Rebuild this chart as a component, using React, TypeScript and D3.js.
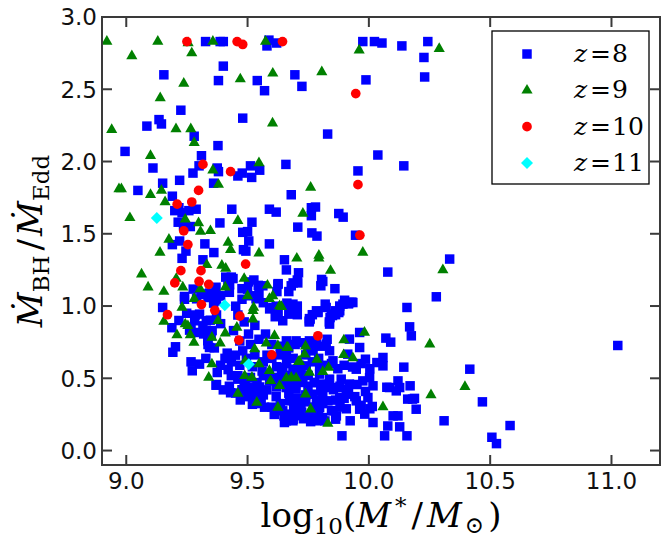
import React, { useEffect, useRef } from "react";
import * as d3 from "d3";

type Pt = [number, number];

const xTicks = [9.0, 9.5, 10.0, 10.5, 11.0];
const yTicks = [0.0, 0.5, 1.0, 1.5, 2.0, 2.5, 3.0];

// z = 8 (blue squares)
const z8Points: Pt[] = [
  [9.327, 2.83], [9.387, 2.83], [9.4, 2.83], [9.588, 2.84], [9.58, 2.8], [9.62, 2.82],
  [9.975, 2.83], [10.023, 2.83], [10.054, 2.82], [10.136, 2.8], [10.243, 2.83], [10.227, 2.72],
  [9.4, 2.66], [9.155, 2.6], [9.38, 2.56], [9.54, 2.56], [9.695, 2.6], [9.724, 2.52], [9.57, 2.49],
  [9.988, 2.565], [10.23, 2.585], [9.225, 2.355], [9.135, 2.29], [9.145, 2.26], [9.085, 2.245],
  [9.48, 2.3], [9.28, 2.175], [9.378, 2.11], [9.83, 2.19], [8.995, 2.07], [9.31, 2.04], [10.037, 2.045],
  [9.3, 1.97], [9.11, 1.955], [9.375, 1.955], [9.38, 1.93], [9.512, 1.97], [9.478, 1.92], [9.46, 1.9],
  [9.517, 1.89], [9.55, 1.94], [9.658, 1.98], [9.275, 1.92], [9.955, 1.935], [10.144, 1.97],
  [9.15, 1.85], [9.22, 1.87], [9.048, 1.8], [9.36, 1.85], [9.19, 1.76], [9.68, 1.77],
  [9.217, 1.68], [9.2, 1.66], [9.23, 1.645], [9.258, 1.66], [9.288, 1.67], [9.435, 1.67], [9.59, 1.67], [9.618, 1.65],
  [9.214, 1.58], [9.236, 1.555], [9.264, 1.55], [9.386, 1.575], [9.518, 1.58], [9.48, 1.51], [9.5, 1.515],
  [9.505, 1.45], [9.483, 1.39], [9.493, 1.38], [9.59, 1.43], [9.19, 1.425], [9.22, 1.45], [9.324, 1.43],
  [9.246, 1.38], [9.361, 1.37], [9.23, 1.33], [9.316, 1.32],
  [9.763, 1.68], [9.78, 1.685], [9.763, 1.625], [9.876, 1.64], [9.894, 1.615], [9.707, 1.546],
  [9.765, 1.506], [9.786, 1.484], [9.945, 1.49], [10.333, 1.325], [9.652, 1.32], [9.66, 1.25],
  [9.71, 1.23], [10.078, 1.235], [9.81, 1.17], [9.802, 1.14], [9.86, 1.12], [9.707, 1.16], [9.68, 1.14],
  [10.278, 1.064], [10.157, 0.99], [9.662, 1.02], [9.687, 0.967], [9.673, 0.944], [9.82, 1.013],
  [9.79, 0.96], [9.755, 0.913], [9.9, 1.04], [9.93, 1.027], [9.876, 0.955], [9.85, 0.934], [9.84, 0.92],
  [9.276, 1.117], [9.24, 1.066], [9.29, 1.05], [9.316, 1.08], [9.343, 1.09], [9.37, 1.13], [9.378, 1.07],
  [9.36, 1.02], [9.41, 1.2], [9.44, 1.19], [9.426, 1.147], [9.526, 1.18], [9.5, 1.117], [9.535, 1.05],
  [9.563, 1.14], [9.625, 1.15], [9.604, 0.99], [9.15, 0.99],
  [9.621, 1.1], [9.67, 1.1], [9.544, 1.143], [9.504, 1.167], [9.477, 1.12], [9.705, 1.0], [9.705, 0.94],
  [9.67, 0.96], [9.618, 0.999], [9.591, 0.98], [9.626, 0.95], [9.614, 0.926], [9.758, 0.91], [9.754, 0.89],
  [9.784, 0.967], [9.767, 0.94], [9.916, 1.015], [9.88, 1.0], [9.863, 0.967], [9.837, 0.89], [9.863, 0.94],
  [9.217, 0.9], [9.188, 0.85], [9.203, 0.718], [9.192, 0.68], [9.261, 0.833], [9.288, 0.817], [9.282, 0.898],
  [9.302, 0.944], [9.33, 0.898], [9.316, 0.863], [9.343, 0.828], [9.35, 0.794], [9.336, 0.76], [9.343, 0.713],
  [9.302, 0.598], [9.272, 0.552], [9.37, 0.452], [9.652, 0.194], [9.66, 0.206],
  [9.372, 0.457], [9.375, 0.54], [9.389, 0.59], [9.407, 0.638], [9.416, 0.674], [9.363, 0.71], [9.337, 0.734],
  [9.328, 0.638], [9.267, 0.614], [9.319, 0.807], [9.354, 0.83], [9.267, 0.854], [9.249, 0.95], [9.284, 0.938],
  [9.346, 0.902], [9.372, 0.938], [9.389, 0.878],
  [9.24, 1.047], [9.311, 1.083], [9.337, 1.059], [9.372, 1.035], [9.389, 1.071], [9.425, 1.095], [9.451, 0.999],
  [9.477, 1.047], [9.512, 1.071], [9.547, 1.083], [9.565, 1.023], [9.46, 0.938], [9.486, 0.89], [9.53, 0.866],
  [9.504, 0.806], [9.442, 0.83], [9.468, 0.758], [9.512, 0.734], [9.547, 0.77], [9.574, 0.806], [9.6, 0.734],
  [9.635, 0.722], [9.67, 0.71], [9.696, 0.734], [9.723, 0.746], [9.749, 0.71], [9.775, 0.746], [9.802, 0.722],
  [9.828, 0.77],
  [9.433, 0.614], [9.468, 0.59], [9.495, 0.638], [9.53, 0.662], [9.565, 0.614], [9.6, 0.638], [9.635, 0.662],
  [9.661, 0.602], [9.688, 0.638], [9.714, 0.59], [9.74, 0.662], [9.767, 0.614], [9.793, 0.638], [9.819, 0.59],
  [9.846, 0.602], [9.872, 0.566], [9.898, 0.59], [9.933, 0.578], [9.968, 0.602], [10.004, 0.566],
  [9.46, 0.518], [9.486, 0.482], [9.512, 0.506], [9.539, 0.47], [9.565, 0.518], [9.591, 0.482], [9.618, 0.506],
  [9.644, 0.47], [9.67, 0.494], [9.696, 0.457], [9.723, 0.482], [9.749, 0.445], [9.775, 0.47], [9.802, 0.433],
  [9.828, 0.457], [9.854, 0.421], [9.881, 0.445], [9.916, 0.421], [9.951, 0.457], [9.986, 0.409],
  [9.495, 0.373], [9.53, 0.397], [9.565, 0.385], [9.618, 0.373], [9.67, 0.397], [9.705, 0.361], [9.74, 0.385],
  [9.784, 0.349], [9.81, 0.373], [9.863, 0.349], [9.898, 0.361], [9.942, 0.373], [9.968, 0.313], [10.004, 0.289],
  [9.81, 0.325], [9.775, 0.301], [9.74, 0.337], [9.705, 0.313], [9.846, 0.277], [9.881, 0.301], [9.793, 0.253],
  [9.758, 0.241], [9.819, 0.205], [9.863, 0.217], [9.907, 0.289], [9.688, 0.217], [9.705, 0.241], [9.723, 0.265],
  [9.6, 0.3], [9.618, 0.29], [9.635, 0.325], [9.556, 0.325], [9.53, 0.354], [9.504, 0.398], [9.477, 0.421],
  [9.451, 0.398], [9.425, 0.445], [9.46, 0.494], [9.433, 0.518],
  [10.168, 0.856], [10.175, 0.794], [10.07, 0.778], [10.09, 0.75], [10.416, 0.563], [10.144, 0.577],
  [10.058, 0.644], [10.058, 0.586], [10.033, 0.609], [9.986, 0.632], [9.962, 0.713], [9.962, 0.817],
  [9.92, 0.771], [9.913, 0.667], [9.948, 0.563], [9.975, 0.482], [10.003, 0.505], [10.017, 0.448],
  [10.085, 0.436], [10.12, 0.482], [10.127, 0.436], [10.113, 0.413], [10.17, 0.448], [10.18, 0.356],
  [10.195, 0.286], [10.16, 0.356], [10.1, 0.24], [10.12, 0.24], [10.078, 0.17], [10.127, 0.164],
  [10.157, 0.102], [10.065, 0.102], [10.31, 0.206], [10.017, 0.194], [9.996, 0.367], [10.014, 0.305],
  [9.983, 0.252], [9.962, 0.286], [9.948, 0.344], [9.923, 0.206], [9.889, 0.102], [9.866, 0.24],
  [9.81, 0.228], [9.783, 0.206], [9.831, 0.344], [9.797, 0.298], [9.852, 0.275], [9.88, 0.367],
  [9.907, 0.39], [9.92, 0.46], [9.886, 0.494], [9.872, 0.436], [9.838, 0.436], [9.804, 0.413],
  [9.77, 0.39], [9.714, 0.344], [9.673, 0.344], [9.645, 0.275], [9.673, 0.252], [9.7, 0.275], [9.687, 0.206],
  [9.81, 0.46], [9.797, 0.529], [9.838, 0.494], [9.824, 0.736], [9.838, 0.69], [9.852, 0.621], [9.77, 0.69],
  [9.755, 0.759], [9.7, 0.759], [9.66, 0.759], [9.783, 0.736], [9.797, 0.586], [9.742, 0.586], [9.687, 0.563],
  [9.645, 0.574], [9.66, 0.436], [9.7, 0.425], [9.728, 0.471], [9.776, 0.471],
  [9.824, 0.99], [9.893, 1.013], [9.88, 0.967], [9.92, 1.024], [9.934, 1.024], [9.845, 0.944], [9.838, 0.875],
  [9.79, 0.955], [9.755, 0.898], [9.645, 0.898], [9.687, 1.013],
  [11.026, 0.727], [10.468, 0.337], [10.507, 0.092], [10.526, 0.048], [10.582, 0.173], [10.074, 0.438],
  [10.188, 0.361], [9.805, 1.184], [9.705, 1.18], [9.688, 1.16], [9.626, 1.155], [9.433, 1.2], [9.419, 1.167],
  [9.45, 0.66], [9.48, 0.69], [9.42, 0.56], [9.4, 0.42], [9.43, 0.4], [9.52, 0.58], [9.56, 0.55], [9.58, 0.66],
  [9.62, 0.58], [9.64, 0.54], [9.66, 0.66], [9.62, 0.44], [9.58, 0.42], [9.55, 0.44], [9.52, 0.44], [9.49, 0.45],
  [9.47, 0.35], [9.52, 0.32], [9.57, 0.3], [9.61, 0.25], [9.65, 0.24], [9.69, 0.29], [9.72, 0.3], [9.73, 0.22],
  [9.76, 0.2], [9.75, 0.52], [9.72, 0.54], [9.68, 0.52], [9.63, 0.49], [9.59, 0.52],
];

// z = 9 (green triangles)
const z9Points: Pt[] = [
  [8.92, 2.83], [9.13, 2.83], [9.255, 2.82], [9.357, 2.83], [9.574, 2.83], [9.96, 2.77], [10.29, 2.78],
  [9.023, 2.73], [9.27, 2.75], [9.237, 2.54], [9.47, 2.57], [9.604, 2.61], [9.806, 2.62], [9.14, 2.44],
  [8.94, 2.22], [9.205, 2.225], [9.266, 2.225], [9.603, 2.265], [9.28, 2.13], [9.1, 2.04], [9.357, 1.94],
  [9.547, 1.99], [8.97, 1.81], [8.98, 1.81], [9.38, 1.84], [9.1, 1.77], [9.145, 1.8], [9.16, 1.72],
  [9.76, 1.82], [9.015, 1.61], [9.243, 1.6], [9.298, 1.575], [9.306, 1.515], [9.347, 1.52], [9.46, 1.59],
  [9.728, 1.64], [9.176, 1.46], [9.42, 1.44], [9.43, 1.39], [9.139, 1.37], [9.547, 1.365], [9.975, 1.37],
  [9.703, 1.33], [9.794, 1.35], [9.794, 1.33], [9.332, 1.285], [9.063, 1.22], [9.394, 1.28], [9.41, 1.26],
  [9.842, 1.245], [10.305, 1.25], [9.206, 1.19], [9.09, 1.13], [9.233, 1.13], [9.155, 1.1], [9.408, 1.13],
  [9.305, 1.117], [9.28, 1.05], [9.23, 0.99], [9.5, 1.07], [9.59, 1.05], [9.604, 1.07], [9.632, 1.0],
  [9.525, 0.99], [9.64, 0.995], [9.522, 0.967], [9.522, 0.909], [9.486, 1.19], [9.582, 1.143],
  [9.155, 0.893], [9.243, 0.875], [9.254, 0.863], [9.209, 0.8], [9.264, 0.8], [9.279, 0.747], [9.378, 0.898],
  [9.353, 0.782], [9.353, 0.598], [9.34, 0.505], [9.408, 0.812], [9.387, 0.743], [9.456, 0.851],
  [9.577, 0.743], [9.529, 0.702], [9.49, 0.62], [9.547, 0.598], [9.59, 0.552], [9.632, 0.448], [9.488, 0.517],
  [9.518, 0.505], [9.595, 0.482], [9.666, 0.713], [9.625, 0.725], [9.68, 0.505], [9.71, 0.614], [9.46, 0.395],
  [9.538, 0.332], [9.625, 0.298], [9.611, 0.794], [9.982, 0.817], [10.251, 0.736], [10.396, 0.441],
  [10.256, 0.385], [10.058, 0.302], [9.831, 0.187], [9.897, 0.764], [9.934, 0.64], [9.896, 0.662],
  [9.834, 0.574], [9.81, 0.545], [9.786, 0.63], [9.739, 0.722], [9.662, 0.713], [9.735, 0.667], [9.714, 0.616],
  [9.755, 0.54], [9.7, 0.501], [9.66, 0.501], [9.739, 0.39], [9.76, 0.286],
];

// z = 10 (red circles)
const z10Points: Pt[] = [
  [9.25, 2.83], [9.457, 2.83], [9.48, 2.81], [9.644, 2.83], [9.946, 2.47], [9.316, 1.98], [9.43, 1.93],
  [9.298, 1.8], [9.955, 1.84], [9.21, 1.705], [9.27, 1.72], [9.237, 1.52], [9.254, 1.425], [9.963, 1.49],
  [9.492, 1.29], [9.225, 1.245], [9.308, 1.245], [9.2, 1.16], [9.3, 1.17], [9.34, 1.15], [9.31, 1.01],
  [9.365, 0.97], [9.468, 0.93], [9.17, 0.94], [9.464, 0.764], [9.79, 0.794], [9.6, 0.662],
];

// z = 11 (cyan diamonds)
const z11Points: Pt[] = [[9.126, 1.61], [9.406, 1.006], [9.505, 0.598]];

const legendLabels = ["8", "9", "10", "11"];

const series = [
  { label: legendLabels[0], points: z8Points, color: "#0000ff", shape: "square" },
  { label: legendLabels[1], points: z9Points, color: "#008000", shape: "triangle" },
  { label: legendLabels[2], points: z10Points, color: "#ff0000", shape: "circle" },
  { label: legendLabels[3], points: z11Points, color: "#00ffff", shape: "diamond" },
];

const symbolFor = (shape: string) => {
  if (shape === "square") return d3.symbol(d3.symbolSquare, 90)();
  if (shape === "triangle") return d3.symbol(d3.symbolTriangle, 54)();
  if (shape === "circle") return d3.symbol(d3.symbolCircle, 74)();
  return d3.symbol(d3.symbolSquare, 72)();
};

const App = () => {
  const ref = useRef<SVGSVGElement>(null);

  useEffect(() => {
    document.body.style.margin = "0";
    const left = 102, right = 660, top = 17, bottom = 465;
    const svg = d3.select(ref.current);
    svg.selectAll("*").remove();

    const x = d3.scaleLinear().domain([8.9, 11.2]).range([left, right]);
    const y = d3.scaleLinear().domain([-0.1, 3.0]).range([bottom, top]);

    svg.append("rect").attr("width", 667).attr("height", 545).attr("fill", "white");

    // markers, drawn in series order like the original
    series.forEach((s) => {
      svg.append("g")
        .selectAll("path")
        .data(s.points)
        .join("path")
        .attr("d", symbolFor(s.shape))
        .attr("transform", (d) =>
          `translate(${x(d[0])},${y(d[1])})` + (s.shape === "diamond" ? " rotate(45)" : ""))
        .attr("fill", s.color);
    });

    const axisColor = "#3a3a3a";
    // frame
    svg.append("rect")
      .attr("x", left).attr("y", top)
      .attr("width", right - left).attr("height", bottom - top)
      .attr("fill", "none").attr("stroke", axisColor).attr("stroke-width", 2);

    const tickLen = 10;
    const ticks = svg.append("g").attr("stroke", axisColor).attr("stroke-width", 2);
    xTicks.forEach((t) => {
      ticks.append("line").attr("x1", x(t)).attr("x2", x(t)).attr("y1", bottom).attr("y2", bottom - tickLen);
      ticks.append("line").attr("x1", x(t)).attr("x2", x(t)).attr("y1", top).attr("y2", top + tickLen);
    });
    yTicks.forEach((t) => {
      ticks.append("line").attr("x1", left).attr("x2", left + tickLen).attr("y1", y(t)).attr("y2", y(t));
      ticks.append("line").attr("x1", right).attr("x2", right - tickLen).attr("y1", y(t)).attr("y2", y(t));
    });

    const tickFont = "DejaVu Sans, sans-serif";
    svg.append("g")
      .selectAll("text")
      .data(xTicks)
      .join("text")
      .attr("x", (d) => x(d))
      .attr("y", 489)
      .attr("text-anchor", "middle")
      .attr("font-family", tickFont)
      .attr("font-size", 23)
      .attr("fill", "#111")
      .text((d) => d3.format(".1f")(d));

    svg.append("g")
      .selectAll("text")
      .data(yTicks)
      .join("text")
      .attr("x", 97)
      .attr("y", (d) => y(d))
      .attr("dy", "0.36em")
      .attr("text-anchor", "end")
      .attr("font-family", tickFont)
      .attr("font-size", 23)
      .attr("fill", "#111")
      .text((d) => d3.format(".1f")(d));

    const serif = "DejaVu Serif, serif";
    // x label
    const xl = svg.append("text")
      .attr("x", 381).attr("y", 527)
      .attr("text-anchor", "middle")
      .attr("font-family", serif)
      .attr("font-size", 34);
    xl.append("tspan").text("log");
    xl.append("tspan").attr("font-size", 23).attr("dy", 7).text("10");
    xl.append("tspan").attr("dy", -7).text("(");
    xl.append("tspan").attr("font-style", "italic").text("M");
    xl.append("tspan").attr("font-size", 23).attr("dx", 4).attr("dy", -13).text("*");
    xl.append("tspan").attr("dx", 5).attr("dy", 13).text("/");
    xl.append("tspan").attr("dx", 4).attr("font-style", "italic").text("M");
    xl.append("tspan").attr("font-size", 23).attr("dx", 3).attr("dy", 6).text("\u2299");
    xl.append("tspan").attr("dx", 4).attr("dy", -6).text(")");

    // y label
    const yl = svg.append("text")
      .attr("transform", `translate(42,${(top + bottom) / 2}) rotate(-90)`)
      .attr("text-anchor", "middle")
      .attr("font-family", serif)
      .attr("font-size", 34);
    yl.append("tspan").attr("font-style", "italic").text("\u1E40");
    yl.append("tspan").attr("font-size", 23).attr("dy", 7).text("BH");
    yl.append("tspan").attr("dx", 5).attr("dy", -7).text("/");
    yl.append("tspan").attr("dx", 3).attr("font-style", "italic").text("\u1E40");
    yl.append("tspan").attr("font-size", 23).attr("dy", 7).text("Edd");

    // legend
    const lg = svg.append("g");
    lg.append("rect")
      .attr("x", 492).attr("y", 31).attr("width", 157).attr("height", 153)
      .attr("fill", "white").attr("stroke", "black").attr("stroke-width", 1.3);
    const rowY = d3.scaleLinear().domain([0, 3]).range([54, 163]);
    series.forEach((s, i) => {
      const cy = rowY(i);
      lg.append("path")
        .attr("d", symbolFor(s.shape))
        .attr("transform", `translate(527,${cy})` + (s.shape === "diamond" ? " rotate(45)" : ""))
        .attr("fill", s.color);
      const t = lg.append("text")
        .attr("y", cy + 8)
        .attr("font-family", serif)
        .attr("font-size", 25);
      t.append("tspan").attr("x", 574).attr("font-style", "italic").text("z");
      t.append("tspan").attr("x", 590).text("=");
      t.append("tspan").attr("x", 612).text(s.label);
    });
  }, []);

  return <svg ref={ref} width={667} height={545} style={{ display: "block" }} />;
};

export default App;
